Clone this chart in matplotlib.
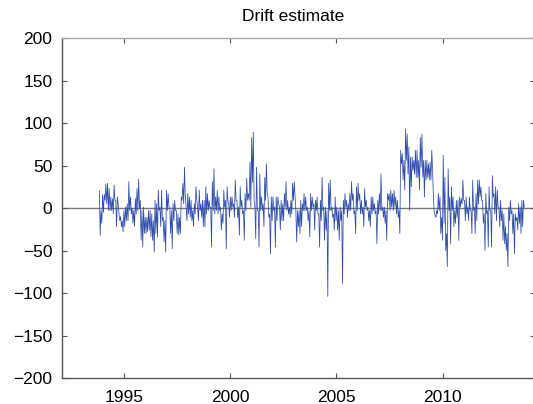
import numpy as np
import matplotlib
matplotlib.use("Agg")
import matplotlib.pyplot as plt

plt.rcParams['font.family'] = ['Liberation Sans', 'DejaVu Sans']

# Drift estimate values (consecutive samples), four stretches
drift_1993_1997 = [20,-32, -3,-18, 16,-5, 16,9, 28,5, 29,-3, 23,-3, 13,-3, 11,-7, 27,9,
                   9,-22, 13,5, -7,-15, -10,-22, -15,-28, -3,-22, 1,-15, 5,-15, 31,-3, 13,-7,
                   0,-18, -3,-22, 11,-7, 23,-3, 34,-1, 9,-38, -3,-46, 1,-30, -11,-30, -11,-28,
                   -3,-26, -3,-34, -7,-38, -15,-52, 9,-30, 5,-34, 21,-3, 1,-22, 21,-15, -11,-40,
                   -15,-52, 21,-3, 17,1]
drift_1997_2002 = [1,-30, -3,-48, 5,-15, 9,-3, -3,-30, -7,-32, -11,-30, 13,9, 29,5, 48,13,
                   1,-15, 17,-7, 13,-11, 9,-15, -3,-22, 5,-7, 25,9, 1,-15, 21,-3, 5,-11,
                   9,-22, 9,-22, 25,-7, 17,-3, 9,0, 1,-46, 31,-3, 46,-7, 13,-3, 21,-7,
                   13,-3, 1,-26, -7,-18, 21,1, 9,-48, 25,9, 5,-11, 13,-3, 13,1, 5,-11,
                   33,9, 9,-11, 1,-32, 25,1, 9,-7, -3,-38, 17,-3, 35,9, 17,9, 54,1,
                   83,30, 89,9, 1,-36, 48,-3, -3,-46, 40,-3, 13,-3, 5,-22, 36,9, 52,17,
                   13,-11, -7,-54, 13,-15, 13,-3, 1,-46, 13,-15, 13,5, 1,-26]
drift_2002_2007 = [9,-15, 5,-15, 17,1, 31,-3, 9,-7, 1,-11, 9,-7, 29,9, 31,13, -3,-40,
                   -3,-22, -3,-30, 9,-22, 5,-3, 17,-3, 13,-3, 1,-15, -3,-34, 17,-3, 13,1,
                   5,-26, 9,-3, 13,-7, -7,-46, 9,-15, 36,-3, 1,-38, 1,-26, -3,-104, 29,-3,
                   33,-3, 1,-11, -7,-26, 13,-15, 1,-26, -3,-38, 1,-15, -3,-89, 9,-7, 17,1,
                   9,-11, 5,-3, 17,-3, 31,9, 17,-7, -3,-30, 25,-3, 29,9, 17,-7, 9,-7,
                   1,-22, 23,1, 9,-3, 1,-15, -3,-22, 13,-7, 13,-3, 5,-7, -3,-42, 9,-7,
                   17,-3, 40,-3, 1,-11, 1,-18, -3,-38, 17,9, 17,-3]
drift_2007_2013 = [21,1, 17,-3, 21,1, 13,-7, 9,-11, -3,-30, 68,52, 64,33, 56,21, 93,56,
                   87,40, 72,-3, 60,25, 60,44, 56,40, 68,36, 68,36, 56,21, 83,48, 87,36,
                   56,13, 56,33, 56,36, 52,33, 54,33, 68,44, 13,-6, -8,-11, -3,-7, 17,-3,
                   13,-30, -11,-38, 62,-18, 36,-50, -30,-69, 46,-3, 13,-42, 25,-3, 13,-22, -3,-18,
                   9,-11, 9,-38, 13,1, 11,5, 33,9, 9,-15, 13,-7, 1,-15, 13,-3, -3,-30,
                   33,-3, 1,-30, 17,-15, 33,5, 33,13, 25,9, 9,-18, -7,-50, 17,-7, -3,-46,
                   25,-3, -3,-46, 38,13, 17,-7, 25,-15, 21,1, 1,-22, 9,-15, -3,-38, -7,-42,
                   -22,-50, -30,-69, 1,-15, 9,-7, -3,-30, -7,-54, -7,-15, -11,-26, 5,-18, 1,-30,
                   9,-22, 9,1]

first_year = 1993.84
last_year = 2013.84
x_ticks = [1995, 2000, 2005, 2010]
y_ticks = [-200, -150, -100, -50, 0, 50, 100, 150, 200]

values = np.array(drift_1993_1997 + drift_1997_2002 + drift_2002_2007 + drift_2007_2013, dtype=float)
years = np.linspace(first_year, last_year, len(values))

fig = plt.figure(figsize=(5.33, 4.04), dpi=100)
ax = fig.add_axes([62/533, 1 - 378/404, (534.5 - 62)/533, (378 - 38)/404])

ax.axhline(0, color='#7a7a7a', lw=1.0, zorder=1)
ax.plot(years, values, color='#2e4caa', lw=0.55, zorder=2)

ax.set_xlim(1992.082, 2014.32)
ax.set_ylim(-200, 200)
ax.set_xticks(x_ticks)
ax.set_yticks(y_ticks)
ax.set_yticklabels([str(v).replace('-', '\u2212') for v in y_ticks])
ax.tick_params(direction='in', length=3.5, width=0.8, top=True, right=True,
               labelsize=12.5, colors='#555555', labelcolor='black')
ax.tick_params(axis='y', pad=7)
ax.tick_params(axis='x', pad=8.5)
for s in ['left', 'bottom']:
    ax.spines[s].set_color('#555555')
for s in ['top', 'right']:
    ax.spines[s].set_color('#a8a8a8')
for s in ax.spines.values():
    s.set_linewidth(1.0)

ax.set_title('Drift estimate', fontsize=12.5, x=(293.5 - 62)/472.5, pad=12)

fig.savefig('out.png', dpi=100)
